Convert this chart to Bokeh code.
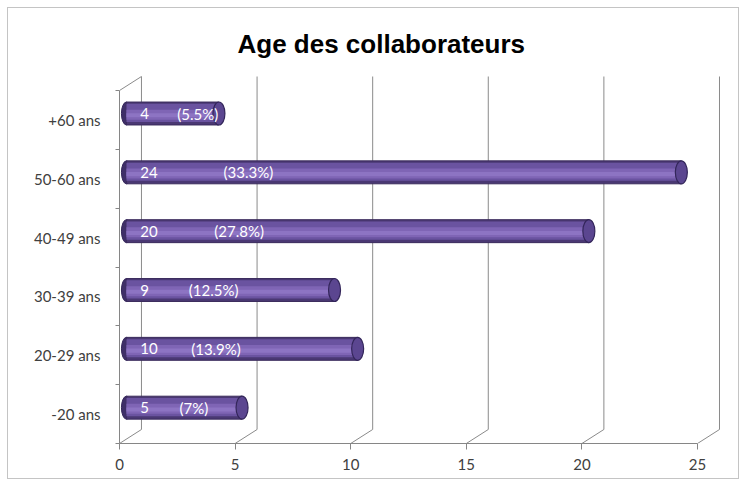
from bokeh.plotting import figure
from bokeh.models import Range1d, FixedTicker
from bokeh.embed import file_html
from bokeh.resources import INLINE
from bokeh.core.properties import value as pv

# ---- data ----
categories = ["-20 ans", "20-29 ans", "30-39 ans", "40-49 ans", "50-60 ans", "+60 ans"]
counts = [5, 10, 9, 20, 24, 4]
pct_labels = ["(7%)", "(13.9%)", "(12.5%)", "(27.8%)", "(33.3%)", "(5.5%)"]
x_ticks = [0, 5, 10, 15, 20, 25]

# ---- 3D geometry (data units) ----
DX, DY = 0.95, 0.238      # depth of the back wall
BX, BY = 0.3, 0.109       # plane of the bars
BAR_H = 0.39
N = len(categories)

pos = [i + 0.5 for i in range(N)]
yc = [q + BY for q in pos]
ends = [c + BX for c in counts]

p = figure(width=732, height=472,
           x_range=Range1d(0, 26.21), y_range=Range1d(0, 6.34),
           output_backend="svg", toolbar_location=None,
           min_border_left=111, min_border_right=15,
           min_border_top=62, min_border_bottom=37)
p.styles = {"border": "1px solid #c4c4c4", "margin-left": "7px", "margin-top": "7px"}
p.outline_line_color = None
p.grid.visible = False
p.background_fill_color = "white"
p.border_fill_color = "white"

p.title.text = "Age des collaborateurs"
p.title.align = "left"
p.title.offset = 118
p.title.standoff = 23
p.title.text_font = "Liberation Sans"
p.title.text_font_size = "26px"
p.title.text_font_style = "bold"
p.title.text_color = "black"

# back wall gridlines
gx = [t + DX for t in x_ticks]
p.segment(x0=gx, y0=[DY] * len(gx), x1=gx, y1=[N + DY] * len(gx),
          line_color="#8a8a8a", line_width=1)
# floor diagonals
p.segment(x0=x_ticks, y0=[0] * len(x_ticks), x1=gx, y1=[DY] * len(gx),
          line_color="#8a8a8a", line_width=1)
# top-left diagonal
p.segment(x0=[0], y0=[N], x1=[DX], y1=[N + DY], line_color="#8a8a8a", line_width=1)

# cylinders: left cap
p.ellipse(x=[BX] * N, y=yc, width=10, height=23, width_units="screen",
          height_units="screen", fill_color="#3f2f68", line_color="#34265a")
# body layers
p.hbar(y=yc, left=BX, right=ends, height=BAR_H, fill_color="#4a3873",
       line_color="#3a2b5c", line_width=1)
p.hbar(y=[v + 0.01 for v in yc], left=BX, right=ends, height=0.31,
       fill_color="#6a53a0", line_color=None)
p.hbar(y=[v - 0.02 for v in yc], left=BX, right=ends, height=0.17,
       fill_color="#7f65b5", line_color=None)
p.hbar(y=[v - 0.03 for v in yc], left=BX, right=ends, height=0.07,
       fill_color="#8d74c3", line_color=None)
# right end face
p.ellipse(x=ends, y=yc, width=12, height=23, width_units="screen",
          height_units="screen", fill_color="#5b4690", line_color="#33265a",
          line_width=1.2)

# labels inside bars
p.text(x=[BX + 0.6] * N, y=yc, text=[str(c) for c in counts],
       text_color="white", text_font=pv("Lato"), text_font_size="15px",
       text_baseline="middle", text_align="left")
p.text(x=[BX + 1.8 + 0.1 * c for c in counts], y=yc, text=pct_labels,
       text_color="white", text_font=pv("Lato"), text_font_size="15px",
       text_baseline="middle", text_align="left")

# x axis
xa = p.xaxis[0]
xa.ticker = FixedTicker(ticks=x_ticks)
xa.bounds = (0, 25)
xa.axis_line_color = "#868686"
xa.major_tick_line_color = "#868686"
xa.major_tick_in = 0
xa.major_tick_out = 6
xa.minor_tick_line_color = None
xa.major_label_text_font = "Lato"
xa.major_label_text_font_size = "15px"
xa.major_label_text_color = "#404040"
xa.major_label_standoff = 9

# y axis
ya = p.yaxis[0]
ya.ticker = FixedTicker(ticks=pos, minor_ticks=list(range(N + 1)))
ya.major_label_overrides = {q: c for q, c in zip(pos, categories)}
ya.bounds = (0, N)
ya.axis_line_color = "#868686"
ya.major_tick_line_color = None
ya.major_tick_in = 0
ya.major_tick_out = 0
ya.minor_tick_line_color = "#868686"
ya.minor_tick_in = 0
ya.minor_tick_out = 4
ya.major_label_text_font = "Lato"
ya.major_label_text_font_size = "15px"
ya.major_label_text_color = "#404040"
ya.major_label_standoff = 15

open("out.html", "w").write(file_html(p, INLINE))
